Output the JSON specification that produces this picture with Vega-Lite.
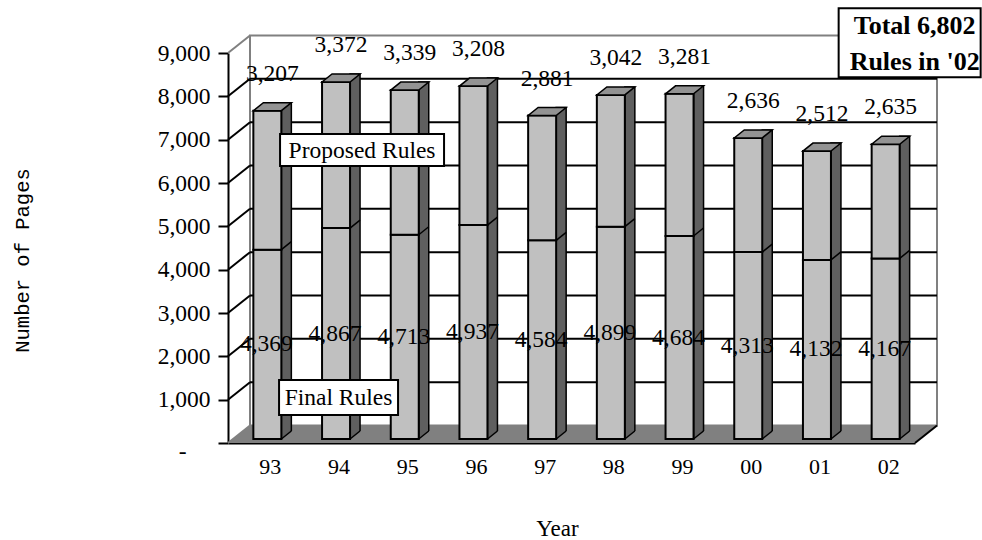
{
  "$schema": "https://vega.github.io/schema/vega-lite/v6.json",
  "width": 687,
  "height": 390,
  "autosize": "none",
  "padding": {"left": 228, "top": 53, "right": 67, "bottom": 97},
  "background": "white",
  "config": {
    "view": {"stroke": null},
    "font": "Liberation Serif",
    "axisX": {
      "labelAngle": 0, "labelFont": "Liberation Serif", "labelFontSize": 22, "labelColor": "black",
      "labelPadding": 13, "labelOffset": 8, "ticks": false, "grid": false,
      "domainColor": "black", "domainWidth": 2, "zindex": 1,
      "titleFont": "Liberation Serif", "titleFontSize": 23, "titleFontWeight": "normal", "titleColor": "black"
    },
    "axisY": {
      "grid": false, "domainColor": "black", "domainWidth": 2,
      "tickColor": "black", "tickWidth": 2, "tickSize": 10,
      "labelFont": "Liberation Serif", "labelFontSize": 23.5, "labelColor": "black",
      "labelPadding": {"condition": {"test": "datum.value === 0", "value": 32}, "value": 8},
      "labelOffset": {"condition": {"test": "datum.value === 0", "value": 8}, "value": 0},
      "labelFlush": false, "zindex": 1,
      "titleFont": "Liberation Mono", "titleFontSize": 20.5, "titleFontWeight": "normal", "titleColor": "black"
    }
  },
  "datasets": {
    "rules": [
      {"year": "93", "final": 4369, "proposed": 3207},
      {"year": "94", "final": 4867, "proposed": 3372},
      {"year": "95", "final": 4713, "proposed": 3339},
      {"year": "96", "final": 4937, "proposed": 3208},
      {"year": "97", "final": 4584, "proposed": 2881},
      {"year": "98", "final": 4899, "proposed": 3042},
      {"year": "99", "final": 4684, "proposed": 3281},
      {"year": "00", "final": 4313, "proposed": 2636},
      {"year": "01", "final": 4132, "proposed": 2512},
      {"year": "02", "final": 4167, "proposed": 2635}
    ],
    "grid": [
      {"v": 0}, {"v": 1000}, {"v": 2000}, {"v": 3000}, {"v": 4000},
      {"v": 5000}, {"v": 6000}, {"v": 7000}, {"v": 8000}, {"v": 9000}
    ]
  },
  "layer": [
    {
      "layer": [
        {
          "description": "back wall of the 3-D frame",
          "data": {"values": [{}]},
          "mark": {"type": "rect", "fill": "white", "stroke": "#808080", "strokeWidth": 2,
                   "xOffset": 22, "x2Offset": 22, "yOffset": -17.5, "y2Offset": -17.5},
          "encoding": {
            "x": {"value": 0},
            "x2": {"value": "width"},
            "y": {"datum": 9000, "type": "quantitative", "scale": {"domain": [0, 9000], "nice": false}},
            "y2": {"datum": 0}
          }
        },
        {
          "description": "gridlines on the back wall",
          "data": {"name": "grid"},
          "transform": [{"filter": "datum.v > 0 && datum.v < 9000"}],
          "mark": {"type": "rule", "color": "black", "strokeWidth": 2, "xOffset": 22, "x2Offset": 22, "yOffset": -17.5, "y2Offset": -17.5},
          "encoding": {
            "x": {"value": 0},
            "x2": {"value": "width"},
            "y": {"field": "v", "type": "quantitative", "scale": {"domain": [0, 9000], "nice": false}},
            "y2": {"field": "v"}
          }
        },
        {
          "description": "floor",
          "data": {"values": [{}]},
          "mark": {"type": "point", "shape": "M0,0 L687,0 L709,-17.5 L22,-17.5 Z", "size": 4,
                   "filled": true, "fill": "#808080", "strokeWidth": 0, "opacity": 1},
          "encoding": {
            "x": {"value": 0},
            "y": {"datum": 0, "type": "quantitative", "scale": {"domain": [0, 9000], "nice": false}}
          }
        },
        {
          "description": "right edge of the floor",
          "data": {"values": [{}]},
          "mark": {"type": "point", "shape": "M687,0 L709,-17.5", "size": 4,
                   "filled": false, "stroke": "black", "strokeWidth": 2, "opacity": 1},
          "encoding": {
            "x": {"value": 0},
            "y": {"datum": 0, "type": "quantitative", "scale": {"domain": [0, 9000], "nice": false}}
          }
        },
        {
          "description": "left wall lines joining the axis ticks to the back wall",
          "data": {"name": "grid"},
          "mark": {"type": "rule", "strokeWidth": 2, "x2Offset": 22, "y2Offset": -17.5},
          "encoding": {
            "x": {"value": 0},
            "x2": {"value": 0},
            "y": {"field": "v", "type": "quantitative", "scale": {"domain": [0, 9000], "nice": false}},
            "y2": {"field": "v"},
            "color": {"condition": {"test": "datum.v == 0 || datum.v == 9000", "value": "#808080"}, "value": "black"}
          }
        },
        {
          "description": "stacked 3-D columns",
          "data": {"name": "rules"},
          "transform": [
            {"fold": ["final", "proposed"], "as": ["type", "pages"]},
            {"stack": "pages", "groupby": ["year"], "sort": [{"field": "type", "order": "ascending"}], "as": ["lo", "hi"]}
          ],
          "layer": [
            {
              "description": "right side face",
              "transform": [{"filter": "datum.type == 'proposed'"}],
              "mark": {"type": "bar", "size": 10, "xOffset": 24, "x2Offset": 24, "yOffset": -12, "y2Offset": -4,
                       "fill": "#5f5f5f", "stroke": "black", "strokeWidth": 1.5},
              "encoding": {
                "x": {"field": "year", "type": "nominal",
                      "scale": {"domain": ["93","94","95","96","97","98","99","00","01","02"], "paddingInner": 0.5, "paddingOuter": 0.25}},
                "y": {"field": "hi", "type": "quantitative", "scale": {"domain": [0, 9000], "nice": false}},
                "y2": {"datum": 0}
              }
            },
            {
              "description": "floor showing under the slanted foot of the side face",
              "transform": [{"filter": "datum.type == 'final'"}],
              "mark": {"type": "point", "shape": "M14,0 L24,-8 L26,-8 L26,2 L14,2 Z", "size": 4,
                       "filled": true, "fill": "#808080", "strokeWidth": 0, "opacity": 1, "xOffset": 5, "yOffset": -4},
              "encoding": {
                "x": {"field": "year", "type": "nominal",
                      "scale": {"domain": ["93","94","95","96","97","98","99","00","01","02"], "paddingInner": 0.5, "paddingOuter": 0.25}},
                "y": {"datum": 0, "type": "quantitative", "scale": {"domain": [0, 9000], "nice": false}}
              }
            },
            {
              "description": "foot edge of the side face",
              "transform": [{"filter": "datum.type == 'final'"}],
              "mark": {"type": "point", "shape": "M14,0 L24,-8", "size": 4,
                       "filled": false, "stroke": "black", "strokeWidth": 1.5, "opacity": 1, "xOffset": 5, "yOffset": -4},
              "encoding": {
                "x": {"field": "year", "type": "nominal",
                      "scale": {"domain": ["93","94","95","96","97","98","99","00","01","02"], "paddingInner": 0.5, "paddingOuter": 0.25}},
                "y": {"datum": 0, "type": "quantitative", "scale": {"domain": [0, 9000], "nice": false}}
              }
            },
            {
              "description": "front faces of the stacked segments",
              "mark": {"type": "bar", "size": 28, "xOffset": 5, "x2Offset": 5, "yOffset": -4, "y2Offset": -4,
                       "fill": "#c0c0c0", "stroke": "black", "strokeWidth": 2},
              "encoding": {
                "x": {"field": "year", "type": "nominal",
                      "scale": {"domain": ["93","94","95","96","97","98","99","00","01","02"], "paddingInner": 0.5, "paddingOuter": 0.25},
                      "axis": {"title": "Year", "titleX": 329, "titleY": 85, "titleBaseline": "middle", "titleAlign": "center"}},
                "y": {"field": "hi", "type": "quantitative", "scale": {"domain": [0, 9000], "nice": false},
                      "axis": {"values": [0, 1000, 2000, 3000, 4000, 5000, 6000, 7000, 8000, 9000],
                               "labelExpr": "datum.value === 0 ? '-' : format(datum.value, ',')",
                               "title": "Number of Pages", "titleAngle": -90,
                               "titleX": -206, "titleY": 207, "titleAlign": "center", "titleBaseline": "middle"}},
                "y2": {"field": "lo"}
              }
            },
            {
              "description": "segment boundary on the side face",
              "transform": [{"filter": "datum.type == 'final'"}],
              "mark": {"type": "point", "shape": "M14,0 L24,-8", "size": 4,
                       "filled": false, "stroke": "black", "strokeWidth": 1.5, "opacity": 1, "xOffset": 5, "yOffset": -4},
              "encoding": {
                "x": {"field": "year", "type": "nominal",
                      "scale": {"domain": ["93","94","95","96","97","98","99","00","01","02"], "paddingInner": 0.5, "paddingOuter": 0.25}},
                "y": {"field": "hi", "type": "quantitative", "scale": {"domain": [0, 9000], "nice": false}}
              }
            },
            {
              "description": "top face",
              "transform": [{"filter": "datum.type == 'proposed'"}],
              "mark": {"type": "point", "shape": "M-14,0 L14,0 L24,-8 L-4,-8 Z", "size": 4,
                       "filled": true, "fill": "#939393", "stroke": "black", "strokeWidth": 1.5, "opacity": 1,
                       "xOffset": 5, "yOffset": -4},
              "encoding": {
                "x": {"field": "year", "type": "nominal",
                      "scale": {"domain": ["93","94","95","96","97","98","99","00","01","02"], "paddingInner": 0.5, "paddingOuter": 0.25}},
                "y": {"field": "hi", "type": "quantitative", "scale": {"domain": [0, 9000], "nice": false}}
              }
            },
            {
              "description": "proposed-rule values above each column",
              "transform": [{"filter": "datum.type == 'proposed'"}],
              "mark": {"type": "text", "font": "Liberation Serif", "fontSize": 23.5, "color": "black",
                       "align": "center", "baseline": "middle", "xOffset": 10, "yOffset": -41},
              "encoding": {
                "x": {"field": "year", "type": "nominal",
                      "scale": {"domain": ["93","94","95","96","97","98","99","00","01","02"], "paddingInner": 0.5, "paddingOuter": 0.25}},
                "y": {"field": "hi", "type": "quantitative", "scale": {"domain": [0, 9000], "nice": false}},
                "text": {"field": "pages", "type": "quantitative", "format": ","}
              }
            }
          ]
        },
        {
          "description": "series label boxes",
          "data": {"values": [{}]},
          "layer": [
            {
              "mark": {"type": "point", "shape": "M-51,-16.5 H113 V15.5 H-51 Z", "size": 4,
                       "filled": true, "fill": "white", "stroke": "black", "strokeWidth": 2, "opacity": 1},
              "encoding": {
                "x": {"datum": "94", "type": "nominal",
                      "scale": {"domain": ["93","94","95","96","97","98","99","00","01","02"], "paddingInner": 0.5, "paddingOuter": 0.25}},
                "y": {"datum": 6750, "type": "quantitative", "scale": {"domain": [0, 9000], "nice": false}}
              }
            },
            {
              "mark": {"type": "text", "text": "Proposed Rules", "font": "Liberation Serif", "fontSize": 23.5, "color": "black",
                       "align": "center", "baseline": "middle", "xOffset": 31},
              "encoding": {
                "x": {"datum": "94", "type": "nominal",
                      "scale": {"domain": ["93","94","95","96","97","98","99","00","01","02"], "paddingInner": 0.5, "paddingOuter": 0.25}},
                "y": {"datum": 6750, "type": "quantitative", "scale": {"domain": [0, 9000], "nice": false}}
              }
            },
            {
              "mark": {"type": "point", "shape": "M-52,-17.5 H67 V17.5 H-52 Z", "size": 4,
                       "filled": true, "fill": "white", "stroke": "black", "strokeWidth": 2, "opacity": 1},
              "encoding": {
                "x": {"datum": "94", "type": "nominal",
                      "scale": {"domain": ["93","94","95","96","97","98","99","00","01","02"], "paddingInner": 0.5, "paddingOuter": 0.25}},
                "y": {"datum": 1050, "type": "quantitative", "scale": {"domain": [0, 9000], "nice": false}}
              }
            },
            {
              "mark": {"type": "text", "text": "Final Rules", "font": "Liberation Serif", "fontSize": 23.5, "color": "black",
                       "align": "center", "baseline": "middle", "xOffset": 7.5},
              "encoding": {
                "x": {"datum": "94", "type": "nominal",
                      "scale": {"domain": ["93","94","95","96","97","98","99","00","01","02"], "paddingInner": 0.5, "paddingOuter": 0.25}},
                "y": {"datum": 1050, "type": "quantitative", "scale": {"domain": [0, 9000], "nice": false}}
              }
            },
            {
              "mark": {"type": "point", "shape": "M-42,-34 H100 V35 H-42 Z", "size": 4,
                       "filled": true, "fill": "white", "stroke": "black", "strokeWidth": 2, "opacity": 1},
              "encoding": {
                "x": {"datum": "02", "type": "nominal",
                      "scale": {"domain": ["93","94","95","96","97","98","99","00","01","02"], "paddingInner": 0.5, "paddingOuter": 0.25}},
                "y": {"datum": 9250, "type": "quantitative", "scale": {"domain": [0, 9000], "nice": false}}
              }
            },
            {
              "mark": {"type": "text", "text": ["Total 6,802", "Rules in '02"], "lineHeight": 36,
                       "font": "Liberation Serif", "fontSize": 26, "fontWeight": "bold", "color": "black",
                       "align": "center", "baseline": "middle", "xOffset": 34, "yOffset": -16},
              "encoding": {
                "x": {"datum": "02", "type": "nominal",
                      "scale": {"domain": ["93","94","95","96","97","98","99","00","01","02"], "paddingInner": 0.5, "paddingOuter": 0.25}},
                "y": {"datum": 9250, "type": "quantitative", "scale": {"domain": [0, 9000], "nice": false}}
              }
            }
          ]
        }
      ]
    },
    {
      "description": "final-rule values halfway up their segment: a doubled domain puts each value at half its height",
      "data": {"name": "rules"},
      "mark": {"type": "text", "font": "Liberation Serif", "fontSize": 23.5, "color": "black",
               "align": "center", "baseline": "middle", "xOffset": 4, "yOffset": -4},
      "encoding": {
        "x": {"field": "year", "type": "nominal",
              "scale": {"domain": ["93","94","95","96","97","98","99","00","01","02"], "paddingInner": 0.5, "paddingOuter": 0.25}},
        "y": {"field": "final", "type": "quantitative", "scale": {"domain": [0, 18000], "nice": false}, "axis": null},
        "text": {"field": "final", "type": "quantitative", "format": ","}
      }
    }
  ],
  "resolve": {"scale": {"y": "independent"}}
}
